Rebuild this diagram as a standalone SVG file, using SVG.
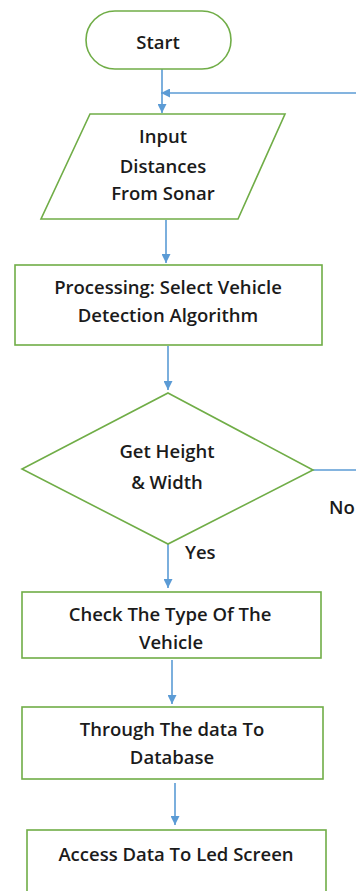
<svg xmlns="http://www.w3.org/2000/svg" width="356" height="891" viewBox="0 0 356 891">
<defs>
<marker id="arr" markerWidth="9" markerHeight="9" refX="9" refY="4.5" orient="auto" markerUnits="userSpaceOnUse">
<path d="M0,0 L9,4.5 L0,9 Z" fill="#5b9bd5"/>
</marker>
</defs>
<style>
.shape{fill:#ffffff;stroke:#70ad47;stroke-width:1.6}
.lbl{font-family:"Open Sans","Liberation Sans",Arial,sans-serif;font-weight:600;font-size:18.5px;fill:#1b1b1b;text-anchor:middle}
.lbl2{font-family:"Open Sans","Liberation Sans",Arial,sans-serif;font-weight:600;font-size:18.5px;fill:#1b1b1b}
.con{fill:none;stroke:#5b9bd5;stroke-width:1.6}
</style>
<rect width="356" height="891" fill="#ffffff"/>
<g id="connectors">
<line class="con" x1="162" y1="69" x2="162" y2="113" marker-end="url(#arr)"/>
<line class="con" x1="356" y1="93" x2="161" y2="93" marker-end="url(#arr)"/>
<line class="con" x1="166" y1="220" x2="166" y2="263" marker-end="url(#arr)"/>
<line class="con" x1="168" y1="346" x2="168" y2="390" marker-end="url(#arr)"/>
<line class="con" x1="168" y1="544" x2="168" y2="588" marker-end="url(#arr)"/>
<line class="con" x1="172" y1="660" x2="172" y2="704" marker-end="url(#arr)"/>
<line class="con" x1="175" y1="783" x2="175" y2="825" marker-end="url(#arr)"/>
<line class="con" x1="313" y1="470" x2="356" y2="470"/>
<text class="lbl2" x="185" y="559">Yes</text>
<text class="lbl2" x="329" y="514">No</text>
</g>
<g id="start">
<rect class="shape" x="86" y="11" width="145" height="58" rx="29" ry="29"/>
<text class="lbl" x="158" y="49">Start</text>
</g>
<g id="input">
<polygon class="shape" points="90,114 285,114 238,219 41,219"/>
<text class="lbl" x="163" y="143">Input</text>
<text class="lbl" x="163" y="173">Distances</text>
<text class="lbl" x="163" y="200">From Sonar</text>
</g>
<g id="process">
<rect class="shape" x="15" y="265" width="307" height="80"/>
<text class="lbl" x="168" y="294">Processing: Select Vehicle</text>
<text class="lbl" x="168" y="322">Detection Algorithm</text>
</g>
<g id="decision">
<polygon class="shape" points="168,393 313,470 168,544 22,469"/>
<text class="lbl" x="167" y="458">Get Height</text>
<text class="lbl" x="167" y="489">&amp; Width</text>
</g>
<g id="check">
<rect class="shape" x="22" y="592" width="299" height="66"/>
<text class="lbl" x="170" y="621">Check The Type Of The</text>
<text class="lbl" x="171" y="649">Vehicle</text>
</g>
<g id="database">
<rect class="shape" x="22" y="707" width="301" height="72"/>
<text class="lbl" x="172" y="736">Through The data To</text>
<text class="lbl" x="172" y="764">Database</text>
</g>
<g id="led">
<rect class="shape" x="27" y="830" width="299" height="80"/>
<text class="lbl" x="176" y="861">Access Data To Led Screen</text>
</g>
</svg>
